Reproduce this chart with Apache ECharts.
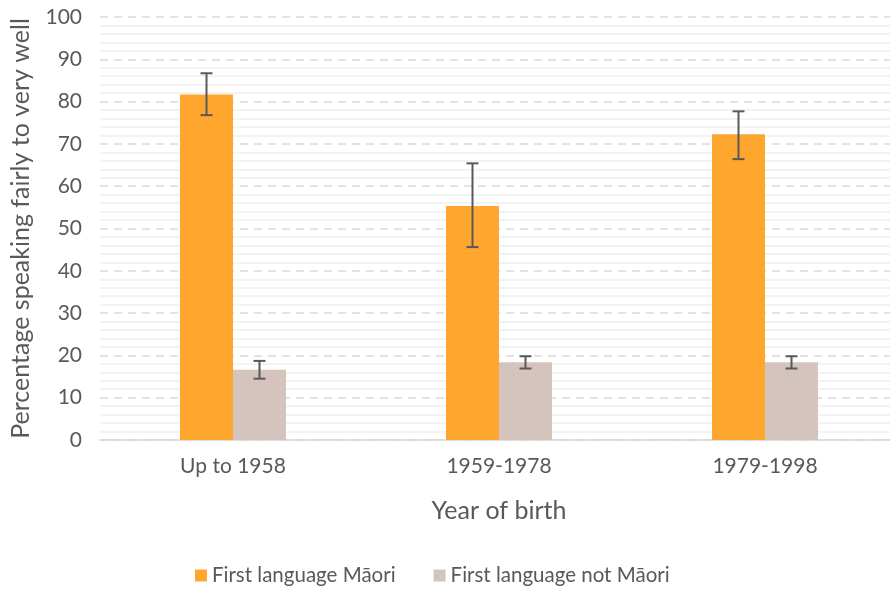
<!DOCTYPE html>
<html>
<head>
<meta charset="utf-8">
<script src="https://cdn.jsdelivr.net/npm/echarts@6/dist/echarts.min.js"></script>
<style>
html,body{margin:0;padding:0;background:#fff;overflow:hidden;}
#chart{width:898px;height:594px;}
</style>
</head>
<body>
<div id="chart"></div>
<script>
const categories = ['Up to 1958', '1959-1978', '1979-1998'];
const maoriValues = [81.7, 55.3, 72.3];
const maoriLow = [76.8, 45.6, 66.4];
const maoriHigh = [86.7, 65.4, 77.7];
const notMaoriValues = [16.6, 18.4, 18.4];
const notMaoriLow = [14.5, 16.9, 16.9];
const notMaoriHigh = [18.7, 19.8, 19.8];
const yTicks = [0, 10, 20, 30, 40, 50, 60, 70, 80, 90, 100];

const FONT = 'Lato';
const TXT = '#595959';
const BAR_W = 53;

function errorSeries(low, high, offset) {
  return {
    type: 'custom',
    silent: true,
    z: 10,
    data: categories.map((c, i) => [i, low[i], high[i]]),
    renderItem: function (params, api) {
      const i = api.value(0);
      const lo = api.coord([i, api.value(1)]);
      const hi = api.coord([i, api.value(2)]);
      const x = lo[0] + offset;
      const cap = 6;
      const style = { stroke: '#595959', lineWidth: 2 };
      return {
        type: 'group',
        children: [
          { type: 'line', shape: { x1: x, y1: hi[1], x2: x, y2: lo[1] }, style: style },
          { type: 'line', shape: { x1: x - cap, y1: hi[1], x2: x + cap, y2: hi[1] }, style: style },
          { type: 'line', shape: { x1: x - cap, y1: lo[1], x2: x + cap, y2: lo[1] }, style: style }
        ]
      };
    }
  };
}

const chart = echarts.init(document.getElementById('chart'));
chart.setOption({
  animation: false,
  textStyle: { fontFamily: FONT, color: TXT },
  grid: { left: 100, top: 17, right: 0, bottom: 154, containLabel: false },
  legend: {
    bottom: 3,
    left: 190,
    itemWidth: 12,
    itemHeight: 12,
    itemGap: 38,
    icon: 'rect',
    textStyle: { fontFamily: FONT, fontSize: 20.5, color: TXT },
    data: ['First language Māori', 'First language not Māori']
  },
  xAxis: {
    type: 'category',
    data: categories,
    name: 'Year of birth',
    nameLocation: 'middle',
    nameGap: 58,
    nameTextStyle: { fontFamily: FONT, fontSize: 25, color: TXT },
    axisLine: { lineStyle: { color: '#d9d9d9', width: 1.5 } },
    axisTick: { show: false },
    axisLabel: { fontFamily: FONT, fontSize: 21, color: TXT, margin: 16 }
  },
  yAxis: {
    type: 'value',
    min: 0,
    max: 100,
    interval: 10,
    name: 'Percentage speaking fairly to very well',
    nameLocation: 'middle',
    nameGap: 67,
    nameTextStyle: { fontFamily: FONT, fontSize: 25, color: TXT },
    axisLine: { show: false },
    axisTick: { show: false },
    axisLabel: {
      fontFamily: FONT, fontSize: 21, color: TXT, margin: 18,
      formatter: function (v) { return yTicks.indexOf(v) >= 0 ? String(v) : ''; }
    },
    splitLine: { lineStyle: { color: '#d9d9d9', type: [8, 6], width: 1.5 } },
    minorTick: { show: false, splitNumber: 5 },
    minorSplitLine: { show: true, lineStyle: { color: '#efefef', width: 1.5 } }
  },
  series: [
    {
      name: 'First language Māori',
      type: 'bar',
      data: maoriValues,
      barWidth: BAR_W,
      barGap: '0%',
      itemStyle: { color: '#FFA62E' }
    },
    {
      name: 'First language not Māori',
      type: 'bar',
      data: notMaoriValues,
      barWidth: BAR_W,
      barGap: '0%',
      itemStyle: { color: '#D5C4BD' }
    },
    errorSeries(maoriLow, maoriHigh, -BAR_W / 2),
    errorSeries(notMaoriLow, notMaoriHigh, BAR_W / 2)
  ]
});
</script>
</body>
</html>
